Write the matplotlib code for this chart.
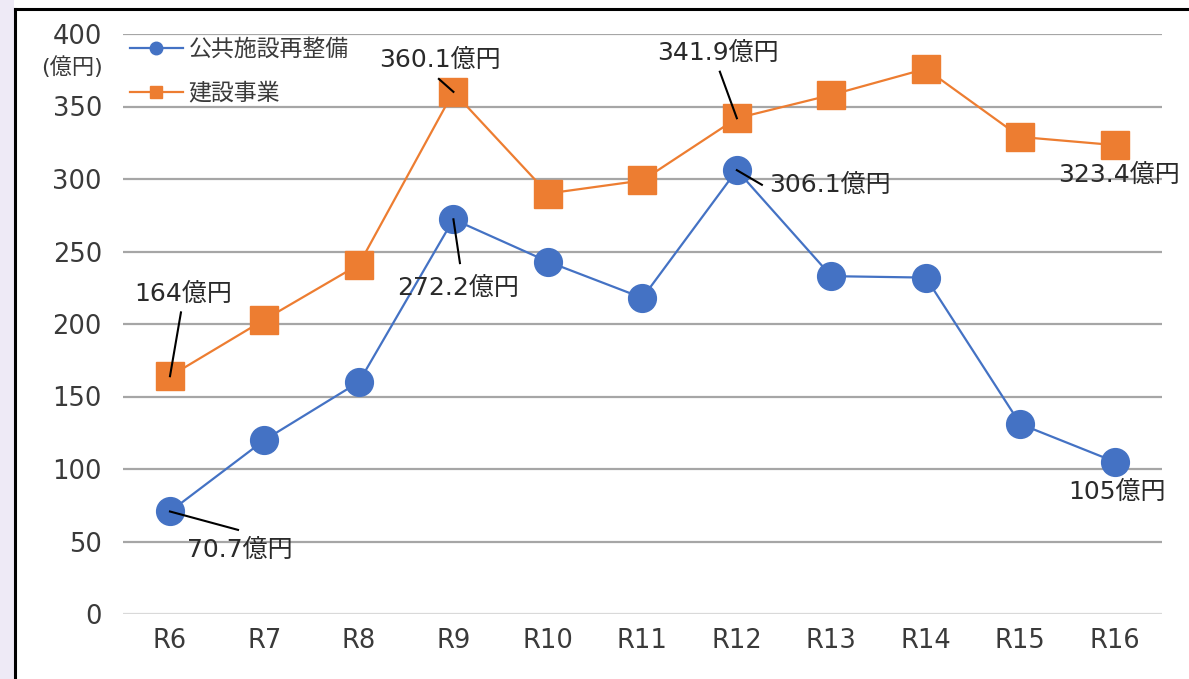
import matplotlib.pyplot as plt
import matplotlib.lines as mlines
import matplotlib.patches as mpatches

plt.rcParams['font.family'] = ['DejaVu Sans', 'Noto Sans CJK JP']

years = ['R6', 'R7', 'R8', 'R9', 'R10', 'R11', 'R12', 'R13', 'R14', 'R15', 'R16']
koukyou = [70.7, 120, 160, 272.2, 243, 218, 306.1, 233, 232, 131, 105]
kensetsu = [164, 203, 241, 360.1, 290, 299, 341.9, 358, 376, 329, 323.4]
yticks = [0, 50, 100, 150, 200, 250, 300, 350, 400]

# data labels: text, text position, leader line end (None = no line)
labels = [
    ('164億円', (0.14, 221), (0.116, 208)),
    ('70.7億円', (0.74, 44), (0.72, 58)),
    ('360.1億円', (2.86, 382), (2.846, 369)),
    ('272.2億円', (3.05, 225), (3.069, 242)),
    ('341.9億円', (5.80, 387), (5.82, 374)),
    ('306.1億円', (6.34, 296), (6.265, 296)),
    ('323.4億円', (10.05, 303), None),
    ('105億円', (10.02, 84), None),
]
label_at = [(0, 164), (0, 70.7), (3, 360.1), (3, 272.2), (6, 341.9), (6, 306.1), None, None]

W, H = 1189, 679
fig = plt.figure(figsize=(W / 100, H / 100), dpi=100)
fig.patch.set_facecolor('white')

# lavender strip on the left and black frame
fig.add_artist(mpatches.Rectangle((0, 0), 14 / W, 1, transform=fig.transFigure,
                                  facecolor='#EEEAF6', edgecolor='none'))
fig.add_artist(mlines.Line2D([15 / W, 15 / W], [0, 1 - 9 / H], transform=fig.transFigure,
                             color='black', lw=2.2))
fig.add_artist(mlines.Line2D([15 / W, 1], [1 - 9 / H, 1 - 9 / H], transform=fig.transFigure,
                             color='black', lw=2.2))

ax = fig.add_axes([122.75 / W, (H - 614) / H, (1162 - 122.75) / W, 580 / H])
ax.set_facecolor('none')
x = list(range(len(years)))

ax.plot(x, koukyou, color='#4472C4', lw=1.6, marker='o', markersize=20,
        label='公共施設再整備', zorder=3)
ax.plot(x, kensetsu, color='#ED7D31', lw=1.6, marker='s', markersize=20,
        label='建設事業', zorder=3)

ax.set_xlim(-0.5, len(years) - 0.5)
ax.set_ylim(0, 400)
ax.set_yticks(yticks)
ax.set_xticks(x)
ax.set_xticklabels(years)
for y in yticks:
    ax.axhline(y, color='#D9D9D9' if y == 0 else '#A6A6A6', lw=1.6, zorder=1)
for s in ax.spines.values():
    s.set_visible(False)
ax.tick_params(length=0, labelsize=18.5, colors='#3a3a3a')
ax.tick_params(axis='y', pad=15)
ax.tick_params(axis='x', pad=10)
ax.text(-0.019, 0.943, '(億円)', transform=ax.transAxes, ha='right', va='center',
        fontsize=16, color='#3a3a3a')

for (txt, pos, end), at in zip(labels, label_at):
    ha = 'left' if txt == '306.1億円' else 'center'
    ax.text(pos[0], pos[1], txt, fontsize=18, color='#2a2a2a', ha=ha, va='center', zorder=4)
    if end is not None:
        ax.plot([at[0], end[0]], [at[1], end[1]], color='black', lw=1.5, zorder=4)

ax.legend(loc='upper left', bbox_to_anchor=(0.007, 0.993), frameon=False,
          prop={'family': 'Noto Sans CJK JP', 'size': 16.5},
          markerscale=0.45, handlelength=2.3, handletextpad=0.25, labelspacing=0.9,
          borderpad=0, borderaxespad=0, labelcolor='#3a3a3a')

fig.savefig('out.png', dpi=100)
